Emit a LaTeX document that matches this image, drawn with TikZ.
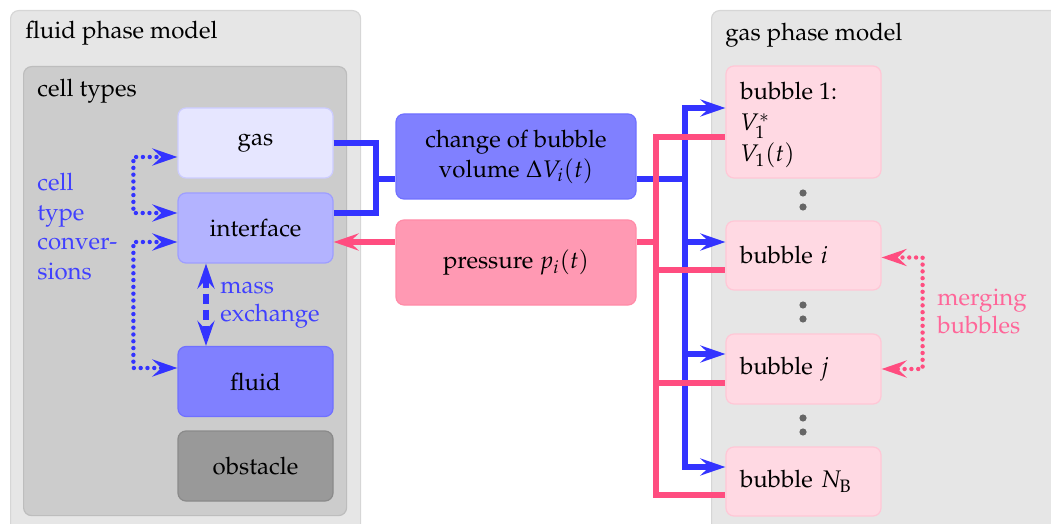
\documentclass[tikz,border=0pt]{standalone}
\usepackage[T1]{fontenc}
\usepackage{mathpazo}
\usetikzlibrary{arrows.meta}
\definecolor{panelbg}{HTML}{E6E6E6}
\definecolor{panelbd}{HTML}{D6D6D6}
\definecolor{innerbg}{HTML}{CCCCCC}
\definecolor{innerbd}{HTML}{BDBDBD}
\definecolor{gasbg}{HTML}{E6E6FF}
\definecolor{gasbd}{HTML}{CCCCFF}
\definecolor{intbg}{HTML}{B3B3FF}
\definecolor{intbd}{HTML}{9E9EFF}
\definecolor{flubg}{HTML}{8080FF}
\definecolor{flubd}{HTML}{7070FF}
\definecolor{obsbg}{HTML}{999999}
\definecolor{obsbd}{HTML}{8A8A8A}
\definecolor{presbg}{HTML}{FF99B3}
\definecolor{presbd}{HTML}{FF8CA8}
\definecolor{bubbg}{HTML}{FFD9E3}
\definecolor{bubbd}{HTML}{FFC7D6}
\definecolor{bluel}{HTML}{3333FF}
\definecolor{pinkl}{HTML}{FF4D80}
\definecolor{bluet}{HTML}{4040FF}
\definecolor{pinkt}{HTML}{FF6699}
\definecolor{dotc}{HTML}{666666}
\tikzset{
  panel/.style={draw=panelbd, fill=panelbg, rounded corners=4pt, line width=0.6pt, inner sep=0pt},
  inner/.style={draw=innerbd, fill=innerbg, rounded corners=4pt, line width=0.6pt, inner sep=0pt},
  cellbox/.style={rounded corners=4pt, line width=0.6pt, minimum width=77.5pt, minimum height=35pt, inner sep=0pt},
  midbox/.style={rounded corners=4pt, line width=0.6pt, minimum width=120pt, minimum height=42.5pt, inner sep=0pt, align=center},
  bubble/.style={draw=bubbd, fill=bubbg, rounded corners=4pt, line width=0.6pt, minimum width=77.5pt, inner xsep=7pt, inner ysep=0pt, text width=63.5pt, align=left},
  plainlabel/.style={inner sep=0pt, anchor=west, align=left},
  vdot/.style={circle, fill=dotc, inner sep=0pt, minimum size=3.6pt},
  bline/.style={draw=bluel, line width=3pt},
  pline/.style={draw=pinkl, line width=3pt},
  bigtip/.tip={Stealth[length=12.5pt,width=8.5pt,inset=4.5pt]},
  dottip/.tip={Stealth[length=12.5pt,width=8.5pt,inset=4.5pt,line cap=butt]},
  barrow/.style={bline, -bigtip},
  parrow/.style={pline, -bigtip},
  conv/.style={draw=bluel, line width=2.2pt, dash pattern=on 0pt off 3.4pt, line cap=round, dottip-dottip},
  merge/.style={draw=pinkl, line width=2.2pt, dash pattern=on 0pt off 3.4pt, line cap=round, dottip-dottip},
  massex/.style={draw=bluel, line width=2.6pt, dash pattern=on 5pt off 3pt, dottip-dottip},
}
\begin{document}
\begin{tikzpicture}[x=0.5pt,y=-0.5pt, font=\fontsize{12}{14.8}\selectfont]
\useasboundingbox (0,0) rectangle (1051,524);
\begin{scope}
\clip (0,0) rectangle (1051,524);
% panels
\node[panel, minimum width=175pt, minimum height=265pt, anchor=north west] (fluidpanel) at (10,10) {};
\node[panel, minimum width=174.5pt, minimum height=265pt, anchor=north west] (gaspanel) at (711,10) {};
\end{scope}
\node[inner, minimum width=161.5pt, minimum height=224.5pt, anchor=north west] (cellpanel) at (23,66) {};
\node[plainlabel] (fluidlabel) at (25,33) {fluid phase model};
\node[plainlabel] (celllabel) at (37,91) {cell types};
\node[plainlabel] (gaslabel) at (725,35) {gas phase model};

% cell boxes
\node[cellbox, draw=gasbd, fill=gasbg] (gas) at (255.5,143) {gas};
\node[cellbox, draw=intbd, fill=intbg] (interface) at (255.5,228) {interface};
\node[cellbox, draw=flubd, fill=flubg] (fluid) at (255.5,381.5) {fluid};
\node[cellbox, draw=obsbd, fill=obsbg] (obstacle) at (255.5,466) {obstacle};

\node[plainlabel, text=bluet, anchor=north west] (convlabel) at (37,173) {cell\\type\\conver-\\sions};
\node[plainlabel, text=bluet, anchor=north west, font=\fontsize{12}{14}\selectfont] (masslabel) at (220,281) {mass\\exchange};

% middle boxes
\node[midbox, draw=flubd, fill=flubg, font=\fontsize{12}{15}\selectfont] (change) at (516,156.5) {change of bubble\\volume $\Delta V_i(t)$};
\node[midbox, draw=presbd, fill=presbg] (pressure) at (516,262.5) {pressure $p_i(t)$};

% bubbles
\node[bubble, minimum height=56pt] (b1) at (803.5,122) {};
\node[plainlabel, anchor=north west, font=\fontsize{12}{15.5}\selectfont] (b1text) at (740,82) {bubble 1:\\$V_1^*$\\$V_1(t)$};
\node[bubble, minimum height=34.5pt] (bi) at (803.5,255.5) {bubble $i$};
\node[bubble, minimum height=35pt] (bj) at (803.5,369) {bubble $j$};
\node[bubble, minimum height=34.5pt] (bn) at (803.5,481.5) {bubble $N_{\mathrm{B}}$};

\node[vdot] (d1) at (803,193) {};
\node[vdot] (d2) at (803,207) {};
\node[vdot] (d3) at (803,305) {};
\node[vdot] (d4) at (803,319) {};
\node[vdot] (d5) at (803,418) {};
\node[vdot] (d6) at (803,432) {};

\node[plainlabel, text=pinkt, anchor=north west, font=\fontsize{12}{14}\selectfont] (mergelabel) at (937,288) {merging\\bubbles};

% cell type conversions
\draw[conv] ([yshift=-7pt]gas.west) -- ++(-44,0) |- ([yshift=7.5pt]interface.west);
\draw[conv] ([yshift=-7pt]interface.west) -- ++(-44,0) |- ([yshift=6.75pt]fluid.west);
\draw[massex] ([xshift=-24.75pt]interface.south) -- ([xshift=-24.75pt]fluid.north);

% blue connectors left
\draw[bline] (gas.east) -- ++(42,0) coordinate (bl) |- ([yshift=7.5pt]interface.east);
\coordinate (cw) at ([yshift=-11.25pt]change.west);
\draw[bline] (cw) -- (bl |- cw);
% blue connectors right
\draw[bline] ([yshift=-11.25pt]change.east) -- ++(48,0) coordinate (br);
\draw[barrow] (br) |- ([yshift=7pt]b1.west);
\draw[barrow] (br) |- ([yshift=6.75pt]bi.west);
\draw[barrow] (br) |- ([yshift=7.5pt]bj.west);
\draw[barrow] (br) |- ([yshift=7.25pt]bn.west);

% pink connectors
\draw[parrow] ([yshift=10.25pt]pressure.west) -- ([yshift=-7pt]interface.east);
\draw[pline] ([yshift=10.25pt]pressure.east) -- ++(19,0) coordinate (pr);
\draw[pline] (pr) |- ([yshift=-7.5pt]b1.west);
\draw[pline] (pr) |- ([yshift=-7.25pt]bi.west);
\draw[pline] (pr) |- ([yshift=-7pt]bj.west);
\draw[pline] (pr) |- ([yshift=-6.75pt]bn.west);

% merging
\draw[merge] ([yshift=-1pt]bi.east) -- ++(41,0) |- (bj.east);
\end{tikzpicture}
\end{document}
